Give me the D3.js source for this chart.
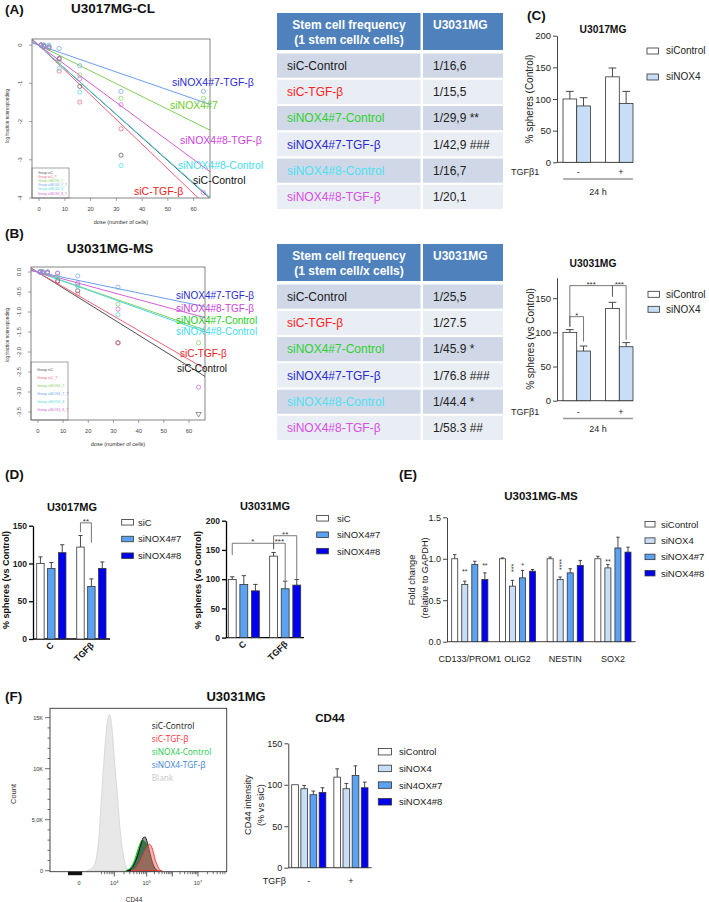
<!doctype html>
<html>
<head>
  <meta charset="utf-8">
  <title>NOX4 and stemness</title>
  <script src="https://d3js.org/d3.v7.min.js"></script>
  <style>
    body { margin: 0; background: #fff; }
    svg { display: block; font-family: "Liberation Sans", Arial, sans-serif; }
  </style>
</head>
<body>
  <div id="figure"></div>
  <script>
    // ---------- data: limiting dilution (A, B) ----------
    var doses = [1, 2, 4, 8, 16, 32, 64];
    var groupNames = ["Group siC", "Group siC_T", "Group siNOX4_7", "Group siNOX4_7_T", "Group siNOX4_8", "Group siNOX4_8_T"];
    var groupColors = ["#505050", "#f0607a", "#7fd05a", "#6a9ff0", "#4fd8e2", "#d35fd8"];
    var freqA = [16.6, 15.5, 29.9, 42.9, 16.7, 20.1];
    var freqB = [25.5, 27.5, 45.9, 76.8, 44.4, 58.3];
    var pointsA = [
      [0, -0.03, -0.05, -0.35, -1.08, -2.88, null],
      [0, -0.02, -0.06, -0.68, -1.49, -2.19, null],
      [0, 0, -0.04, -0.44, -0.78, -1.39, -1.39],
      [0, 0, 0, -0.09, -0.54, -1.21, -1.21],
      [0, -0.02, -0.05, -0.61, -1.23, -3.15, null],
      [0, -0.03, -0.08, -0.37, -0.88, -1.56, -3.86]
    ];
    var pointsB = [
      [0, 0, -0.02, -0.22, -0.47, -1.77, null],
      [0, 0, -0.03, -0.25, -0.55, -1.77, null],
      [0, 0, -0.02, -0.1, -0.35, -0.8, -1.77],
      [0, 0, 0, -0.03, -0.1, -0.38, null],
      [0, 0, -0.02, -0.15, -0.35, -1.07, null],
      [0, -0.02, 0, -0.03, -0.28, -0.93, -2.88]
    ];
    var conditions = ["siC-Control", "siC-TGF-β", "siNOX4#7-Control", "siNOX4#7-TGF-β", "siNOX4#8-Control", "siNOX4#8-TGF-β"];
    var conditionColors = ["#1a1a1a", "#ff2222", "#2ed12e", "#2a2ad0", "#4fe0f0", "#d84ee8"];
    var labelsA = ["siNOX4#7-TGF-β", "siNOX4#7", "siNOX4#8-TGF-β", "siNOX4#8-Control", "siC-Control", "siC-TGF-β"];
    var labelsAColors = ["#2a2ad6", "#6ccc28", "#cc44dd", "#44ddee", "#111111", "#ee1c1c"];
    var labelsB = ["siNOX4#7-TGF-β", "siNOX4#8-TGF-β", "siNOX4#7-Control", "siNOX4#8-Control", "siC-TGF-β", "siC-Control"];
    var labelsBColors = ["#2a2ad6", "#cc44dd", "#22cc22", "#44ddee", "#ee1c1c", "#111111"];
    var tableA = ["1/16,6", "1/15,5", "1/29,9 **", "1/42,9 ###", "1/16,7", "1/20,1"];
    var tableB = ["1/25,5", "1/27.5", "1/45.9 *", "1/76.8 ###", "1/44.4  *", "1/58.3 ##"];

    // ---------- data: bar charts ----------
    var tgfGroups = ["-", "+"];
    var cSeries = ["siControl", "siNOX4"];
    var c1Mean = [[100, 89], [135, 93]];
    var c1Sem = [[12, 13], [14, 19]];
    var c2Mean = [[100, 72.7], [135, 79]];
    var c2Sem = [[4, 7.3], [9, 6]];

    var dGroups = ["C", "TGFβ"];
    var dSeries = ["siC", "siNOX4#7", "siNOX4#8"];
    var d1Mean = [[100, 93.5, 114.3], [121.7, 69.6, 93.5]];
    var d1Sem = [[8.7, 7.8, 10.5], [15.3, 10, 8.5]];
    var d2Mean = [[99.4, 91, 80], [139.4, 83.6, 89.8]];
    var d2Sem = [[4.6, 15, 11], [6.1, 13, 9.6]];

    var eGenes = ["CD133/PROM1", "OLIG2", "NESTIN", "SOX2"];
    var eSeries = ["siControl", "siNOX4", "siNOX4#7", "siNOX4#8"];
    var eMean = [[1.0, 0.69, 0.93, 0.75], [1.0, 0.67, 0.77, 0.85], [1.0, 0.75, 0.83, 0.92], [1.0, 0.89, 1.13, 1.08]];
    var eSem = [[0.05, 0.04, 0.04, 0.08], [0.01, 0.07, 0.09, 0.02], [0.02, 0.03, 0.05, 0.06], [0.03, 0.04, 0.13, 0.06]];

    var fSeries = ["siControl", "siNOX4", "siN4OX#7", "siNOX4#8"];
    var fMean = [[100, 95.2, 88, 90.8], [109.2, 95.2, 111.2, 96.4]];
    var fSem = [[0, 4, 4.4, 5.6], [10, 6.4, 11.6, 6.8]];

    // ---------- data: CD44 histogram ----------
    var histNames = ["siC-Control", "siC-TGF-β", "siNOX4-Control", "siNOX4-TGF-β", "Blank"];
    var blankLog = [3.15, 3.35, 3.5, 3.61, 3.72, 3.8, 3.85, 3.92, 4.0, 4.09, 4.18, 4.28, 4.38, 4.45];
    var blankCount = [0, 400, 2500, 7600, 12500, 14900, 15300, 14200, 11000, 7600, 4000, 1500, 300, 0];
    var siCLog = [4.4, 4.55, 4.65, 4.75, 4.83, 4.9, 4.95, 5.02, 5.1, 5.18, 5.27, 5.37, 5.45];
    var siCCount = [0, 300, 900, 1800, 2700, 3250, 3300, 2800, 2000, 1200, 500, 100, 0];
    var siCTLog = [4.52, 4.68, 4.8, 4.92, 5.02, 5.1, 5.18, 5.26, 5.34, 5.44, 5.52, 5.6];
    var siCTCount = [0, 300, 900, 1700, 2300, 2600, 2400, 1800, 1000, 400, 50, 0];
    var noxLog = [4.35, 4.5, 4.62, 4.72, 4.8, 4.87, 4.94, 5.02, 5.1, 5.2, 5.3, 5.4];
    var noxCount = [0, 300, 1000, 2000, 2700, 3000, 2850, 2200, 1400, 600, 150, 0];
    var noxTLog = [4.38, 4.52, 4.64, 4.74, 4.82, 4.89, 4.96, 5.04, 5.12, 5.22, 5.32, 5.42];
    var noxTCount = [0, 250, 900, 1850, 2550, 2850, 2750, 2150, 1350, 600, 150, 0];
    var countTicks = [0, 5000, 10000, 15000];
    var countTickLabels = ["0", "5,0K", "10K", "15K"];
    var cd44Ticks = [2.9, 4, 5, 7];
    var cd44TickExp = [null, 4, 5, 7];

    var white = "#ffffff", light = "#c8ddf6", mid = "#5ba2f2", blue = "#0000f0";

    var svg = d3.select("#figure").append("svg")
      .attr("width", 709)
      .attr("height", 902);

    function text(g, x, y, s, size, opts) {
      opts = opts || {};
      var t = g.append("text")
        .attr("x", x).attr("y", y)
        .attr("font-size", size)
        .attr("fill", opts.fill || "#111")
        .attr("text-anchor", opts.anchor || "start")
        .text(s);
      if (opts.bold) t.attr("font-weight", "bold");
      if (opts.rotate) t.attr("transform", "rotate(" + opts.rotate + "," + x + "," + y + ")");
      if (opts.family) t.attr("font-family", opts.family);
      return t;
    }

    // panel letters
    [["(A)", 5, 14], ["(B)", 5, 238], ["(C)", 527, 20], ["(D)", 5, 479], ["(E)", 399, 479], ["(F)", 5, 701]]
      .forEach(function (p) { text(svg, p[1], p[2], p[0], 13.5, { bold: true }); });

    // ---------- limiting dilution plots ----------
    function ldaPlot(cfg) {
      var g = svg.append("g");
      var x = d3.scaleLinear().domain([-2.56, 66.56]).range([cfg.left, cfg.right]);
      var y = d3.scaleLinear().domain(cfg.yDomain).range([cfg.bottom, cfg.top]);

      g.append("clipPath").attr("id", cfg.id)
        .append("rect")
        .attr("x", cfg.left).attr("y", cfg.top)
        .attr("width", cfg.right - cfg.left).attr("height", cfg.bottom - cfg.top);

      var plot = g.append("g").attr("clip-path", "url(#" + cfg.id + ")");

      // fitted lines: log fraction = -dose / frequency
      cfg.freq.forEach(function (f, i) {
        plot.append("path")
          .datum(x.domain())
          .attr("fill", "none")
          .attr("stroke", groupColors[i])
          .attr("stroke-width", 1)
          .attr("d", d3.line()
            .x(function (d) { return x(d); })
            .y(function (d) { return y(-d / f); }));
      });

      cfg.points.forEach(function (row, i) {
        row.forEach(function (v, k) {
          if (v === null) return;
          plot.append("circle")
            .attr("cx", x(doses[k])).attr("cy", y(v)).attr("r", 2.1)
            .attr("fill", "none").attr("stroke", groupColors[i]).attr("stroke-width", 0.7);
        });
      });

      (cfg.inf || []).forEach(function (p) {
        plot.append("path")
          .attr("d", d3.symbol().type(d3.symbolTriangle).size(12))
          .attr("transform", "translate(" + x(p[1]) + "," + (cfg.bottom - 6) + ") rotate(180)")
          .attr("fill", "none").attr("stroke", groupColors[p[0]]).attr("stroke-width", 0.6);
      });

      // legend box
      var lg = g.append("g");
      lg.append("rect")
        .attr("x", cfg.left).attr("y", cfg.legTop)
        .attr("width", 37).attr("height", cfg.bottom - cfg.legTop)
        .attr("fill", "#fff").attr("stroke", "#666").attr("stroke-width", 0.6);
      groupNames.forEach(function (n, i) {
        text(lg, cfg.left + 6, cfg.legTop + cfg.legStart + i * cfg.legStep, n, cfg.legFont, { fill: groupColors[i] });
      });

      g.append("rect")
        .attr("x", cfg.left).attr("y", cfg.top)
        .attr("width", cfg.right - cfg.left).attr("height", cfg.bottom - cfg.top)
        .attr("fill", "none").attr("stroke", "#666").attr("stroke-width", 0.8);

      // x axis
      var xa = g.append("g")
        .attr("transform", "translate(0," + cfg.bottom + ")")
        .call(d3.axisBottom(x).tickValues([0, 10, 20, 30, 40, 50, 60]).tickSize(3).tickPadding(6).tickSizeOuter(0));
      xa.select(".domain").remove();
      xa.selectAll("line").attr("stroke", "#666").attr("stroke-width", 0.6);
      xa.selectAll("text").attr("font-size", 5.8).attr("fill", "#444").attr("font-family", "Liberation Sans, Arial");

      // y axis, labels parallel to the axis
      cfg.yTicks.forEach(function (v, i) {
        g.append("line")
          .attr("x1", cfg.left - 3).attr("x2", cfg.left)
          .attr("y1", y(v)).attr("y2", y(v))
          .attr("stroke", "#666").attr("stroke-width", 0.6);
        text(g, cfg.left - 10, y(v), cfg.yTickLabels[i], 5.8, { anchor: "middle", fill: "#444", rotate: -90 });
      });

      text(g, (cfg.left + cfg.right) / 2, cfg.bottom + 26, "dose (number of cells)", 5.5, { anchor: "middle", fill: "#333" });
      text(g, 9, cfg.yLabelY, "log fraction nonresponding", 4.6, { anchor: "middle", fill: "#333", rotate: -90 });

      cfg.labels.forEach(function (s, i) {
        text(g, cfg.labelPos[i][0], cfg.labelPos[i][1], s, cfg.labelFont, { fill: cfg.labelColors[i] });
      });
    }

    text(svg, 113, 13, "U3017MG-CL", 13.5, { anchor: "middle", bold: true });
    ldaPlot({
      id: "clipA", left: 32, right: 210, top: 39, bottom: 198,
      yDomain: [-4, 0.16], yTicks: [0, -1, -2, -3, -4], yTickLabels: ["0", "-1", "-2", "-3", "-4"],
      freq: freqA, points: pointsA,
      legTop: 168, legStart: 5.5, legStep: 4.2, legFont: 3.3,
      yLabelY: 116,
      labels: labelsA, labelColors: labelsAColors, labelFont: 10.5,
      labelPos: [[172, 86], [170, 109], [180, 144], [178, 169], [193, 184], [134, 195]]
    });

    text(svg, 110, 253, "U3031MG-MS", 13.5, { anchor: "middle", bold: true });
    ldaPlot({
      id: "clipB", left: 31, right: 205, top: 267, bottom: 420,
      yDomain: [-3.7, 0.125], yTicks: [0, -0.5, -1, -1.5, -2, -2.5, -3, -3.5],
      yTickLabels: ["0.0", "-0.5", "-1.0", "-1.5", "-2.0", "-2.5", "-3.0", "-3.5"],
      freq: freqB, points: pointsB, inf: [[0, 64]],
      legTop: 362, legStart: 9, legStep: 8, legFont: 3.6,
      yLabelY: 335,
      labels: labelsB, labelColors: labelsBColors, labelFont: 10,
      labelPos: [[176, 298.5], [176, 311.5], [176, 323.5], [176, 334.5], [180, 357], [177, 372]]
    });

    // ---------- stem cell frequency tables ----------
    function freqTable(top, values) {
      var g = svg.append("g");
      var rows = d3.scaleBand().domain(conditions).range([top + 40.5, top + 196]).paddingInner(0.08);
      var c1 = 277, c2 = 423, c1w = 143.5, c2w = 80;
      g.append("rect").attr("x", c1).attr("y", top).attr("width", c1w).attr("height", 37).attr("fill", "#4f81bd");
      g.append("rect").attr("x", c2).attr("y", top).attr("width", c2w).attr("height", 37).attr("fill", "#4f81bd");
      text(g, 349, top + 15.5, "Stem cell frequency", 12, { anchor: "middle", bold: true, fill: "#fff" });
      text(g, 349, top + 30.5, "(1 stem cell/x cells)", 12, { anchor: "middle", bold: true, fill: "#fff" });
      text(g, 433, top + 16, "U3031MG", 12, { bold: true, fill: "#fff" });
      conditions.forEach(function (c, i) {
        var fill = i % 2 === 0 ? "#d0d8e8" : "#e9edf4";
        g.append("rect").attr("x", c1).attr("y", rows(c)).attr("width", c1w).attr("height", rows.bandwidth()).attr("fill", fill);
        g.append("rect").attr("x", c2).attr("y", rows(c)).attr("width", c2w).attr("height", rows.bandwidth()).attr("fill", fill);
        var cy = rows(c) + rows.bandwidth() / 2 + 4.3;
        text(g, 287, cy, c, 12, { fill: conditionColors[i] });
        text(g, 433, cy, values[i], 12, { fill: "#222" });
      });
    }
    freqTable(13, tableA);
    freqTable(244, tableB);

    // ---------- generic grouped bar chart ----------
    function barChart(cfg) {
      var g = svg.append("g");
      var y = d3.scaleLinear().domain(cfg.yDomain).range(cfg.yRange);
      var x0 = d3.scaleBand().domain(cfg.groups).range(cfg.barRange).paddingInner(cfg.padGroup);
      var x1 = d3.scaleBand().domain(cfg.series).range([0, x0.bandwidth()]).paddingInner(cfg.padBar);
      var axisColor = cfg.axisColor || "#444";

      var ya = g.append("g")
        .attr("transform", "translate(" + cfg.axisX + ",0)")
        .call(d3.axisLeft(y).tickValues(cfg.ticks).tickSize(4).tickSizeOuter(0).tickPadding(2)
          .tickFormat(cfg.fmt || d3.format("d")));
      ya.select(".domain").attr("stroke", axisColor).attr("stroke-width", cfg.axisWidth || 1);
      ya.selectAll("line").attr("stroke", axisColor).attr("stroke-width", cfg.axisWidth || 1);
      ya.selectAll("text").attr("font-size", cfg.tickFont).attr("fill", "#222")
        .attr("font-family", "Liberation Sans, Arial")
        .attr("font-weight", cfg.bold ? "bold" : "normal");

      g.append("line")
        .attr("x1", cfg.axisX).attr("x2", cfg.axisEnd)
        .attr("y1", y(0)).attr("y2", y(0))
        .attr("stroke", axisColor).attr("stroke-width", cfg.axisWidth || 1);

      function cx(gi, si) { return x0(cfg.groups[gi]) + x1(cfg.series[si]) + x1.bandwidth() / 2; }

      cfg.groups.forEach(function (gn, i) {
        cfg.series.forEach(function (sn, j) {
          var bx = x0(gn) + x1(sn), bw = x1.bandwidth();
          var m = cfg.means[i][j], e = cfg.sems[i][j];
          if (e > 0) {
            g.append("line")
              .attr("x1", bx + bw / 2).attr("x2", bx + bw / 2)
              .attr("y1", y(m)).attr("y2", y(m + e))
              .attr("stroke", "#333").attr("stroke-width", 0.9);
            g.append("line")
              .attr("x1", bx + bw * 0.22).attr("x2", bx + bw * 0.78)
              .attr("y1", y(m + e)).attr("y2", y(m + e))
              .attr("stroke", "#333").attr("stroke-width", 0.9);
          }
          g.append("rect")
            .attr("x", bx).attr("y", y(m))
            .attr("width", bw).attr("height", y(0) - y(m))
            .attr("fill", cfg.colors[j])
            .attr("stroke", "#333").attr("stroke-width", 0.8);
        });
      });

      // significance brackets
      (cfg.brackets || []).forEach(function (b) {
        var xa = cx(b.a[0], b.a[1]), xb = cx(b.b[0], b.b[1]);
        g.append("path")
          .attr("d", "M" + xa + "," + y(b.ly) + "V" + y(b.y) + "H" + xb + "V" + y(b.ry))
          .attr("fill", "none").attr("stroke", "#555").attr("stroke-width", 0.8);
        text(g, (xa + xb) / 2, y(b.y) + 1.2, b.label, 8, { anchor: "middle", fill: "#333" });
      });

      (cfg.stars || []).forEach(function (s) {
        var sx = cx(s.g, s.s), sy = y(s.y);
        var t = g.append("text")
          .attr("x", sx).attr("y", sy)
          .attr("dy", "0.57em")
          .attr("font-size", 7).attr("fill", "#333")
          .attr("text-anchor", "middle")
          .text(s.label);
        if (s.vertical) t.attr("transform", "rotate(-90," + sx + "," + sy + ")");
      });

      // legend
      cfg.series.forEach(function (sn, j) {
        var ly = cfg.legend.y + j * cfg.legend.step;
        g.append("rect")
          .attr("x", cfg.legend.x).attr("y", ly - cfg.legend.h / 2)
          .attr("width", cfg.legend.w).attr("height", cfg.legend.h)
          .attr("fill", cfg.colors[j]).attr("stroke", "#333").attr("stroke-width", 0.8);
        text(g, cfg.legend.tx, ly + 3.4, sn, cfg.legend.font, { fill: "#222" });
      });

      return { g: g, x0: x0, x1: x1, y: y };
    }

    // ---------- (C) ----------
    text(svg, 603, 33, "U3017MG", 10.3, { anchor: "middle", bold: true });
    var c1 = barChart({
      groups: tgfGroups, series: cSeries, means: c1Mean, sems: c1Sem, colors: [white, light],
      yDomain: [0, 200], yRange: [162.3, 35.7], ticks: [0, 50, 100, 150, 200], tickFont: 9.5,
      axisX: 557, axisEnd: 633, barRange: [563, 633], padGroup: 0.357, padBar: 0,
      legend: { x: 647, y: 51, step: 26, w: 11.5, h: 6, tx: 666, font: 10 }
    });
    text(svg, 533, 99, "% spheres (Control)", 10, { anchor: "middle", fill: "#222", rotate: -90 });

    text(svg, 593, 266.5, "U3031MG", 10.3, { anchor: "middle", bold: true });
    var c2 = barChart({
      groups: tgfGroups, series: cSeries, means: c2Mean, sems: c2Sem, colors: [white, light],
      yDomain: [0, 180], yRange: [400.7, 277.7], ticks: [0, 50, 100, 150], tickFont: 9.5,
      axisX: 557, axisEnd: 633, barRange: [563, 633], padGroup: 0.357, padBar: 0,
      brackets: [
        { a: [0, 0], b: [0, 1], y: 123, ly: 108, ry: 86.4, label: "*" },
        { a: [0, 0], b: [1, 0], y: 168.4, ly: 108.3, ry: 152.3, label: "***" },
        { a: [1, 0], b: [1, 1], y: 168.4, ly: 152.3, ry: 88.9, label: "***" }
      ],
      legend: { x: 648, y: 294.3, step: 15, w: 11.5, h: 6, tx: 666, font: 10 }
    });
    text(svg, 534, 339, "% spheres (vs Control)", 10, { anchor: "middle", fill: "#222", rotate: -90 });

    [[c1, 175, 179, 195], [c2, 415, 418.5, 432]].forEach(function (p) {
      var ch = p[0];
      text(svg, 511, p[1], "TGFβ1", 9, { fill: "#222" });
      tgfGroups.forEach(function (gn) {
        text(svg, ch.x0(gn) + ch.x0.bandwidth() / 2 + 1.5, p[1], gn, 9, { anchor: "middle", fill: "#222" });
      });
      svg.append("line").attr("x1", 563).attr("x2", 633).attr("y1", p[2]).attr("y2", p[2])
        .attr("stroke", "#999").attr("stroke-width", 1.6);
      text(svg, 598, p[3], "24 h", 9, { anchor: "middle", fill: "#222" });
    });

    // ---------- (D) ----------
    text(svg, 72, 511, "U3017MG", 11, { anchor: "middle", bold: true });
    var d1 = barChart({
      groups: dGroups, series: dSeries, means: d1Mean, sems: d1Sem, colors: [white, mid, blue],
      yDomain: [0, 150], yRange: [639, 525.7], ticks: [0, 50, 100, 150], tickFont: 8.5, bold: true,
      axisX: 33, axisEnd: 110, barRange: [36.7, 106], padGroup: 0.27, padBar: 0.32,
      axisColor: "#000", axisWidth: 1.3,
      brackets: [{ a: [1, 0], b: [1, 1], y: 153.8, ly: 141.5, ry: 127.4, label: "**" }],
      legend: { x: 121.7, y: 522.3, step: 16.7, w: 11.7, h: 5.5, tx: 138, font: 9.5 }
    });
    text(svg, 9, 580, "% spheres (vs Control)", 9, { anchor: "middle", bold: true, rotate: -90 });

    text(svg, 265, 510, "U3031MG", 11, { anchor: "middle", bold: true });
    var d2 = barChart({
      groups: dGroups, series: dSeries, means: d2Mean, sems: d2Sem, colors: [white, mid, blue],
      yDomain: [0, 200], yRange: [637.6, 520.7], ticks: [0, 50, 100, 150, 200], tickFont: 8.5, bold: true,
      axisX: 226, axisEnd: 304, barRange: [228.3, 300.7], padGroup: 0.25, padBar: 0.32,
      axisColor: "#000", axisWidth: 1.3,
      brackets: [
        { a: [0, 0], b: [1, 0], y: 161.4, ly: 141.3, ry: 151.4, label: "*" },
        { a: [1, 0], b: [1, 1], y: 161.4, ly: 151.4, ry: 98.5, label: "***" },
        { a: [1, 0], b: [1, 2], y: 174.3, ly: 161.4, ry: 98.5, label: "**" }
      ],
      legend: { x: 316.7, y: 518.3, step: 16.4, w: 11.7, h: 5.5, tx: 337, font: 9.5 }
    });
    text(svg, 201, 580, "% spheres (vs Control)", 9, { anchor: "middle", bold: true, rotate: -90 });

    [d1, d2].forEach(function (ch) {
      dGroups.forEach(function (gn) {
        var gx = ch.x0(gn) + ch.x0.bandwidth() / 2 + 3;
        var gy = ch.y(0) + 7;
        text(svg, gx, gy, gn, 9, { anchor: "end", bold: true, rotate: -45 });
      });
    });

    // ---------- (E) ----------
    text(svg, 541, 500, "U3031MG-MS", 11.5, { anchor: "middle", bold: true });
    var e = barChart({
      groups: eGenes, series: eSeries, means: eMean, sems: eSem, colors: [white, light, mid, blue],
      yDomain: [0, 1.5], yRange: [641.7, 517.3], ticks: [0, 0.5, 1, 1.5], tickFont: 9, fmt: d3.format(".1f"),
      axisX: 447, axisEnd: 635.7, barRange: [451.7, 631], padGroup: 0.242, padBar: 0.4,
      stars: [
        { g: 0, s: 1, y: 0.865, label: "**" },
        { g: 0, s: 3, y: 0.937, label: "**" },
        { g: 1, s: 1, y: 0.89, label: "***", vertical: true },
        { g: 1, s: 2, y: 0.934, label: "*" },
        { g: 2, s: 1, y: 0.93, label: "****", vertical: true },
        { g: 3, s: 1, y: 0.985, label: "**" }
      ],
      legend: { x: 645, y: 524.3, step: 16.3, w: 10, h: 5.5, tx: 661, font: 9.5 }
    });
    eGenes.forEach(function (gn) {
      text(svg, e.x0(gn) + e.x0.bandwidth() / 2, 661.5, gn, 9, { anchor: "middle", fill: "#222" });
    });
    text(svg, 415, 580, "Fold change", 9.2, { anchor: "middle", fill: "#222", rotate: -90 });
    text(svg, 428, 578, "(relative to GAPDH)", 9.2, { anchor: "middle", fill: "#222", rotate: -90 });

    // ---------- (F) histogram ----------
    text(svg, 236, 701, "U3031MG", 13, { anchor: "middle", bold: true });
    var hx = d3.scaleLinear().domain([2, 4, 5, 7, 7.9]).range([50, 114.3, 146.7, 198, 226.7]);
    var hy = d3.scaleLinear().domain([0, 15000]).range([870.7, 717.7]);
    var hist = svg.append("g");
    var histArea = d3.area()
      .x(function (d) { return hx(d[0]); })
      .y0(hy(0))
      .y1(function (d) { return hy(d[1]); })
      .curve(d3.curveMonotoneX);
    var histSets = [
      [d3.zip(blankLog, blankCount), "#e8e8e8", "#d9d9d9", 1],
      [d3.zip(noxTLog, noxTCount), "#3a7dd8", "#3a7dd8", 0.5],
      [d3.zip(noxLog, noxCount), "#229922", "#14d014", 0.6],
      [d3.zip(siCLog, siCCount), "#2a2a2a", "#111111", 0.45],
      [d3.zip(siCTLog, siCTCount), "#e86a6a", "#ff3b3b", 0.5]
    ];
    histSets.forEach(function (h) {
      hist.append("path")
        .datum(h[0])
        .attr("d", histArea)
        .attr("fill", h[1]).attr("fill-opacity", h[3])
        .attr("stroke", h[2]).attr("stroke-width", 1);
    });
    hist.append("rect")
      .attr("x", 50).attr("y", 708.3).attr("width", 176.7).attr("height", 163.4)
      .attr("fill", "none").attr("stroke", "#333").attr("stroke-width", 0.9);

    // count axis: minor ticks each 1000, major with labels
    d3.range(0, 16000, 1000).forEach(function (v) {
      var major = countTicks.indexOf(v) >= 0;
      hist.append("line").attr("x1", 50 - (major ? 5 : 2.5)).attr("x2", 50)
        .attr("y1", hy(v)).attr("y2", hy(v)).attr("stroke", "#333").attr("stroke-width", 0.7);
    });
    countTicks.forEach(function (v, i) {
      text(hist, 43, hy(v) + 2, countTickLabels[i], 5.5, { anchor: "end", fill: "#333" });
    });
    text(hist, 16, 794, "Count", 7.5, { anchor: "middle", fill: "#333", rotate: -90 });

    // CD44 axis: major, minor log ticks and the dense zero region
    var minorTicks = [];
    [3, 4, 5, 6, 7].forEach(function (dec) {
      d3.range(2, 10).forEach(function (k) {
        var v = dec + Math.log10(k);
        if (v < 7.9 && (dec > 3 || k > 3)) minorTicks.push(v);
      });
    });
    minorTicks.forEach(function (v) {
      hist.append("line").attr("x1", hx(v)).attr("x2", hx(v)).attr("y1", 871.7).attr("y2", 874.2)
        .attr("stroke", "#333").attr("stroke-width", 0.7);
    });
    [4, 5, 6, 7].forEach(function (v) {
      hist.append("line").attr("x1", hx(v)).attr("x2", hx(v)).attr("y1", 871.7).attr("y2", 876.5)
        .attr("stroke", "#333").attr("stroke-width", 0.8);
    });
    hist.append("rect").attr("x", hx(2.56)).attr("y", 871.7).attr("width", hx(3.0) - hx(2.56)).attr("height", 3.5)
      .attr("fill", "#111");
    cd44Ticks.forEach(function (v, i) {
      var t = hist.append("text")
        .attr("x", hx(v)).attr("y", 885)
        .attr("font-size", 5.5).attr("fill", "#333").attr("text-anchor", "middle");
      if (cd44TickExp[i] === null) {
        t.text("0");
      } else {
        t.append("tspan").text("10");
        t.append("tspan").attr("font-size", 4).attr("dy", -2.5).text(cd44TickExp[i]);
      }
    });
    text(hist, 134, 901.5, "CD44", 6.5, { anchor: "middle", fill: "#333" });

    var histLegColors = ["#111111", "#ff3030", "#22c94a", "#3a7fd5", "#c8c8c8"];
    histNames.forEach(function (n, i) {
      text(hist, 151.7, 729 + i * 13.1, n, 8.3, { fill: histLegColors[i], family: "'Open Sans', sans-serif" });
    });

    // ---------- (F) CD44 bars ----------
    text(svg, 330, 721.5, "CD44", 11.5, { anchor: "middle", bold: true });
    var f = barChart({
      groups: tgfGroups, series: fSeries, means: fMean, sems: fSem, colors: [white, light, mid, blue],
      yDomain: [0, 150], yRange: [867.7, 743.3], ticks: [0, 50, 100, 150], tickFont: 9,
      axisX: 288.3, axisEnd: 371.7, barRange: [291.7, 368], padGroup: 0.19, padBar: 0.27,
      legend: { x: 378.3, y: 751.7, step: 16.7, w: 13.3, h: 6.5, tx: 399, font: 9.5 }
    });
    text(svg, 262.7, 883.5, "TGFβ", 9, { fill: "#222" });
    tgfGroups.forEach(function (gn) {
      text(svg, f.x0(gn) + f.x0.bandwidth() / 2, 883.5, gn, 9, { anchor: "middle", fill: "#222" });
    });
    text(svg, 251, 805, "CD44 intensity", 9.2, { anchor: "middle", fill: "#222", rotate: -90 });
    text(svg, 264, 805, "(% vs siC)", 9.2, { anchor: "middle", fill: "#222", rotate: -90 });
  </script>
</body>
</html>
